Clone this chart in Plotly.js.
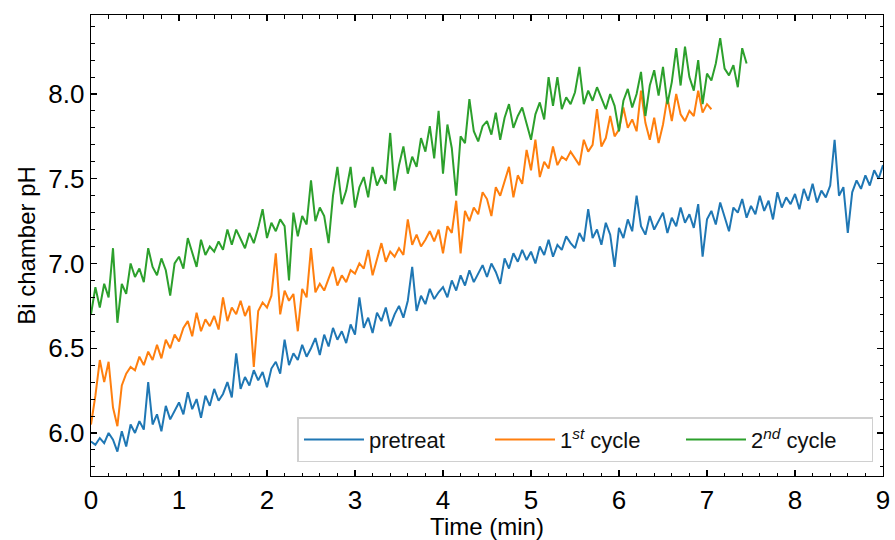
<!DOCTYPE html>
<html>
<head>
<meta charset="utf-8">
<script src="https://cdn.plot.ly/plotly-3.0.1.min.js"></script>
<style>html,body{margin:0;padding:0;background:#fff;}#chart{width:895px;height:540px;}</style>
</head>
<body>
<div id="chart"></div>
<script>
const time = [0,0.05,0.1,0.15,0.2,0.25,0.3,0.35,0.4,0.45,
0.5,0.55,0.6,0.65,0.7,0.75,0.8,0.85,0.9,0.95,
1,1.05,1.1,1.15,1.2,1.25,1.3,1.35,1.4,1.45,
1.5,1.55,1.6,1.65,1.7,1.75,1.8,1.85,1.9,1.95,
2,2.05,2.1,2.15,2.2,2.25,2.3,2.35,2.4,2.45,
2.5,2.55,2.6,2.65,2.7,2.75,2.8,2.85,2.9,2.95,
3,3.05,3.1,3.15,3.2,3.25,3.3,3.35,3.4,3.45,
3.5,3.55,3.6,3.65,3.7,3.75,3.8,3.85,3.9,3.95,
4,4.05,4.1,4.15,4.2,4.25,4.3,4.35,4.4,4.45,
4.5,4.55,4.6,4.65,4.7,4.75,4.8,4.85,4.9,4.95,
5,5.05,5.1,5.15,5.2,5.25,5.3,5.35,5.4,5.45,
5.5,5.55,5.6,5.65,5.7,5.75,5.8,5.85,5.9,5.95,
6,6.05,6.1,6.15,6.2,6.25,6.3,6.35,6.4,6.45,
6.5,6.55,6.6,6.65,6.7,6.75,6.8,6.85,6.9,6.95,
7,7.05,7.1,7.15,7.2,7.25,7.3,7.35,7.4,7.45,
7.5,7.55,7.6,7.65,7.7,7.75,7.8,7.85,7.9,7.95,
8,8.05,8.1,8.15,8.2,8.25,8.3,8.35,8.4,8.45,
8.5,8.55,8.6,8.65,8.7,8.75,8.8,8.85,8.9,8.95,
9];

const pretreat = [5.95,5.93,5.97,5.94,6.00,5.96,5.89,6.01,5.92,6.05,
6.00,6.07,6.02,6.30,6.05,6.11,6.01,6.16,6.08,6.13,
6.18,6.11,6.24,6.14,6.20,6.09,6.22,6.16,6.26,6.19,
6.23,6.30,6.21,6.47,6.26,6.33,6.28,6.37,6.31,6.36,
6.27,6.38,6.42,6.35,6.55,6.40,6.47,6.43,6.52,6.45,
6.50,6.56,6.46,6.58,6.51,6.62,6.55,6.60,6.53,6.64,
6.58,6.80,6.62,6.68,6.59,6.71,6.66,6.74,6.63,6.70,
6.75,6.68,6.78,6.98,6.72,6.81,6.76,6.85,6.79,6.83,
6.86,6.80,6.90,6.84,6.93,6.87,6.96,6.89,6.94,6.99,
6.92,7.00,6.95,6.88,7.03,6.97,7.06,7.01,7.08,7.02,
7.07,7.00,7.10,7.05,7.14,7.04,7.11,7.08,7.16,7.12,
7.09,7.18,7.13,7.32,7.15,7.20,7.11,7.24,7.17,6.98,
7.21,7.15,7.26,7.19,7.40,7.22,7.17,7.28,7.20,7.25,
7.30,7.18,7.27,7.22,7.33,7.24,7.29,7.21,7.35,7.04,
7.26,7.31,7.23,7.36,7.28,7.19,7.33,7.30,7.38,7.27,
7.34,7.29,7.40,7.31,7.37,7.26,7.42,7.33,7.39,7.35,
7.41,7.32,7.44,7.37,7.47,7.36,7.43,7.39,7.46,7.73,
7.40,7.45,7.18,7.42,7.49,7.44,7.52,7.46,7.55,7.50,
7.58];

const cycle1 = [6.05,6.22,6.43,6.30,6.42,6.15,6.04,6.28,6.35,6.39,
6.37,6.45,6.40,6.48,6.43,6.52,6.44,6.55,6.50,6.58,
6.54,6.62,6.66,6.57,6.71,6.60,6.67,6.63,6.69,6.61,
6.80,6.66,6.74,6.70,6.78,6.69,6.75,6.39,6.72,6.77,
6.74,6.81,7.06,6.70,6.84,6.78,6.82,6.60,6.85,6.80,
7.09,6.83,6.88,6.84,6.91,6.98,6.87,6.93,6.89,6.96,
6.94,7.00,6.97,7.08,6.93,7.03,7.12,7.01,7.07,7.04,
7.09,7.05,7.26,7.11,7.17,7.10,7.14,7.19,7.13,7.20,
7.06,7.22,7.18,7.37,7.06,7.31,7.25,7.33,7.29,7.42,
7.38,7.28,7.45,7.40,7.49,7.57,7.39,7.52,7.47,7.67,
7.55,7.73,7.51,7.60,7.56,7.69,7.58,7.63,7.61,7.66,
7.62,7.58,7.73,7.66,7.70,7.91,7.69,7.74,7.87,7.75,
7.79,7.92,7.80,7.85,7.78,8.02,7.83,7.73,7.86,7.71,
7.82,7.98,7.84,8.00,7.88,7.84,7.90,7.87,8.02,7.89,
7.94,7.91];

const cycle2 = [6.70,6.86,6.74,6.88,6.80,7.09,6.65,6.88,6.82,7.00,
6.92,6.97,6.89,7.09,6.98,6.93,7.03,6.96,6.81,7.00,
7.04,6.97,7.15,7.06,6.98,7.14,7.05,7.10,7.07,7.13,
7.08,7.20,7.11,7.20,7.14,7.09,7.18,7.12,7.21,7.32,
7.15,7.24,7.19,7.26,7.22,6.90,7.30,7.16,7.28,7.23,
7.49,7.25,7.33,7.28,7.12,7.40,7.57,7.35,7.43,7.57,
7.33,7.45,7.51,7.39,7.57,7.46,7.52,7.47,7.77,7.43,
7.58,7.69,7.53,7.63,7.57,7.74,7.66,7.81,7.62,7.90,
7.53,7.82,7.68,7.40,7.75,7.71,7.97,7.78,7.72,7.81,
7.84,7.76,7.89,7.73,7.86,7.94,7.80,7.87,7.92,7.83,
7.73,7.88,7.95,7.85,8.10,7.93,8.10,7.91,7.98,7.94,
8.01,8.16,7.94,8.02,7.96,8.04,7.97,7.91,8.00,7.93,
7.78,7.96,8.03,7.92,8.00,8.13,7.87,8.05,8.14,7.99,
8.16,7.94,8.07,8.27,8.05,8.28,8.10,8.02,8.20,7.94,
8.12,8.08,8.18,8.33,8.15,8.11,8.17,8.04,8.27,8.18];

const names = ['pretreat', '1<sup><i>st</i></sup> cycle', '2<sup><i>nd</i></sup> cycle'];
const colors = ['#1f77b4', '#ff7f0e', '#2ca02c'];
const series = [pretreat, cycle1, cycle2];

const traces = series.map((ys, i) => ({
  type: 'scatter', mode: 'lines',
  x: time.slice(0, ys.length), y: ys,
  name: names[i],
  line: {color: colors[i], width: 2}
}));

const axisCommon = {
  showgrid: false, zeroline: false,
  showline: true, linecolor: '#000', linewidth: 1.3,
  mirror: 'allticks', ticks: 'inside', ticklen: 6, tickwidth: 1.3, tickcolor: '#000',
  tickfont: {size: 26, color: '#000'}
};

const layout = {
  width: 895, height: 540,
  margin: {l: 91, r: 12, t: 15, b: 64},
  paper_bgcolor: '#fff', plot_bgcolor: '#fff',
  font: {family: 'Liberation Sans, Arial, sans-serif', color: '#000'},
  showlegend: true,
  legend: {
    orientation: 'h', x: 0.988, xanchor: 'right', y: 0.03, yanchor: 'bottom',
    bordercolor: '#d0d0d0', borderwidth: 1.5, bgcolor: '#fff',
    font: {size: 22, color: '#111'}, entrywidth: 116, itemwidth: 60
  },
  xaxis: Object.assign({}, axisCommon, {
    range: [0, 9], dtick: 1, tick0: 0,
    minor: {dtick: 0.2, ticks: 'inside', ticklen: 3.5, tickwidth: 1, tickcolor: '#000'},
    title: {text: 'Time (min)', font: {size: 24, color: '#000'}, standoff: 2}
  }),
  yaxis: Object.assign({}, axisCommon, {
    range: [5.746, 8.466], dtick: 0.5, tick0: 6, tickformat: '.1f',
    minor: {dtick: 0.1, ticks: 'inside', ticklen: 3.5, tickwidth: 1, tickcolor: '#000'},
    title: {text: 'Bi chamber pH', font: {size: 24, color: '#000'}, standoff: 6}
  })
};

Plotly.newPlot('chart', traces, layout, {staticPlot: true});
</script>
</body>
</html>
